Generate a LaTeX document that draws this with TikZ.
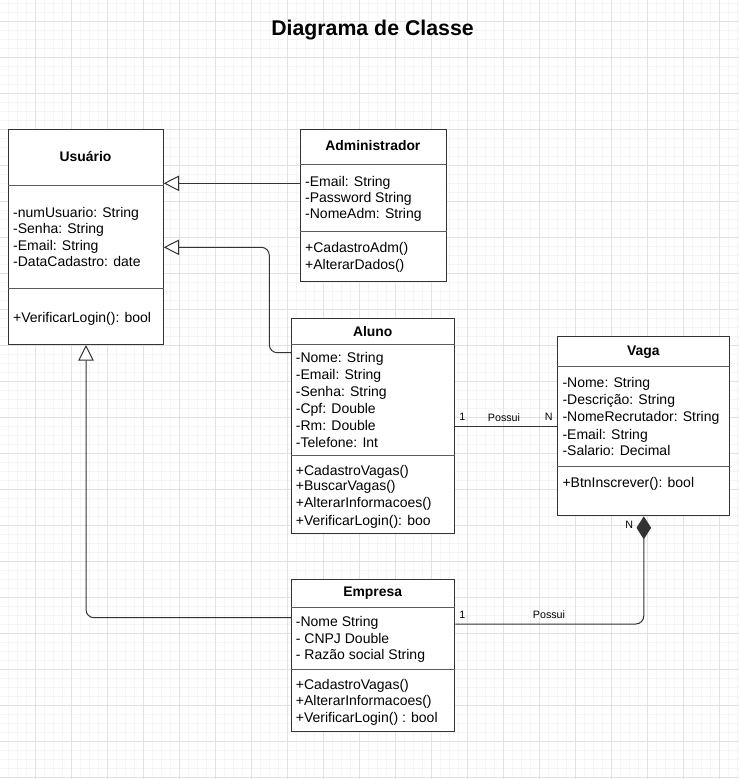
\documentclass[tikz,border=0pt]{standalone}
\usepackage{fontspec}
\setmainfont{Liberation Sans}
\usetikzlibrary{arrows.meta}
\definecolor{majorgrid}{HTML}{E2E2E2}
\definecolor{minorgrid}{HTML}{F5F5F5}
\definecolor{edge}{HTML}{333333}
\begin{document}
\begin{tikzpicture}[x=1pt,y=-1pt,
  classbox/.style={draw=edge, line width=1pt, fill=white, inner sep=0, anchor=north west},
  classtitle/.style={font=\fontsize{13.9}{16}\selectfont\bfseries, inner sep=0},
  member/.style={font=\fontsize{14}{16}\selectfont, inner sep=0, anchor=base west},
  sepline/.style={draw=edge!80, line width=0.9pt},
  conn/.style={draw=edge, line width=1pt},
  edgelabel/.style={font=\fontsize{10.7}{12}\selectfont, inner sep=0},
  inherit/.style={-{Triangle[length=15.5pt, width=15.5pt, fill=white]}},
]
\useasboundingbox (0,0) rectangle (739,779);
\fill[white] (0,0) rectangle (739,779);
% grid
\foreach \x in {8.5,17.5,...,739} \draw[minorgrid, line width=0.9pt] (\x,0) -- (\x,779);
\foreach \y in {3.3,12.3,...,779} \draw[minorgrid, line width=0.9pt] (0,\y) -- (739,\y);
\foreach \x in {35.5,71.5,...,739} \draw[majorgrid, line width=0.9pt] (\x,0) -- (\x,779);
\foreach \y in {21.3,57.3,...,779} \draw[majorgrid, line width=0.9pt] (0,\y) -- (739,\y);

% title
\node[font=\fontsize{21.3}{24}\selectfont\bfseries, inner sep=0] (title) at (372.5,30) {Diagrama de Classe};

% ---------- Usuario
\node[classbox, minimum width=154.4, minimum height=214.7] (usuario) at (8.3,129.3) {};
\node[classtitle] (usuario-t) at (85.5,156.7) {Usuário};
\draw[sepline] (usuario.west |- 0,185.3) -- (usuario.east |- 0,185.3);
\draw[sepline] (usuario.west |- 0,288.3) -- (usuario.east |- 0,288.3);
\foreach \y/\t [count=\i] in {217.3/-numUsuario: String, 233.7/-Senha: String, 250.7/-Email: String, 266.7/-DataCadastro: date, 322.3/+VerificarLogin(): bool}
  \node[member] (usuario-m\i) at (13,\y) {\t};

% ---------- Administrador
\node[classbox, minimum width=145.7, minimum height=152] (admin) at (300,129.3) {};
\node[classtitle] (admin-t) at (372.9,145.7) {Administrador};
\draw[sepline] (admin.west |- 0,164) -- (admin.east |- 0,164);
\draw[sepline] (admin.west |- 0,231) -- (admin.east |- 0,231);
\foreach \y/\t [count=\i] in {186.7/-Email: String, 202.3/-Password String, 218/-NomeAdm: String, 252.3/+CadastroAdm(), 269/+AlterarDados()}
  \node[member] (admin-m\i) at (305,\y) {\t};

% ---------- Aluno
\node[classbox, minimum width=163.3, minimum height=215.3] (aluno) at (291,318) {};
\node[classtitle] (aluno-t) at (372.7,331.3) {Aluno};
\draw[sepline] (aluno.west |- 0,344) -- (aluno.east |- 0,344);
\draw[sepline] (aluno.west |- 0,455.7) -- (aluno.east |- 0,455.7);
\foreach \y/\t [count=\i] in {362.7/-Nome: String, 379.3/-Email: String, 396.3/-Senha: String, 413.3/-Cpf: Double, 430.3/-Rm: Double, 447.3/-Telefone: Int, 475/+CadastroVagas(), 490.7/+BuscarVagas(), 507.7/+AlterarInformacoes(), 525/+VerificarLogin(): boo}
  \node[member] (aluno-m\i) at (295.7,\y) {\t};

% ---------- Vaga
\node[classbox, minimum width=172, minimum height=179.3] (vaga) at (557.3,336) {};
\node[classtitle] (vaga-t) at (643.3,352.3) {Vaga};
\draw[sepline] (vaga.west |- 0,366.7) -- (vaga.east |- 0,366.7);
\draw[sepline] (vaga.west |- 0,466.7) -- (vaga.east |- 0,466.7);
\foreach \y/\t [count=\i] in {387.3/-Nome: String, 404.3/-Descrição: String, 421.3/-NomeRecrutador: String, 439/-Email: String, 455.7/-Salario: Decimal, 487.3/+BtnInscrever(): bool}
  \node[member] (vaga-m\i) at (562.3,\y) {\t};

% ---------- Empresa
\node[classbox, minimum width=163.3, minimum height=152] (empresa) at (291,579.3) {};
\node[classtitle] (empresa-t) at (372.7,592.7) {Empresa};
\draw[sepline] (empresa.west |- 0,607) -- (empresa.east |- 0,607);
\draw[sepline] (empresa.west |- 0,669) -- (empresa.east |- 0,669);
\foreach \y/\t [count=\i] in {626.3/-Nome String, 643/- CNPJ Double, 659.7/- Razão social String, 689.3/+CadastroVagas(), 705.7/+AlterarInformacoes(), 722/+VerificarLogin() : bool}
  \node[member] (empresa-m\i) at (295.7,\y) {\t};

% ---------- connectors
\coordinate (bendA) at (269.3,300);
\draw[conn, inherit] (admin.west |- 0,183.3) -- (usuario.east |- 0,183.3);
\draw[conn, inherit, rounded corners=8pt] (aluno.west |- 0,352.7) -- (bendA |- 0,352.7) -- (bendA |- 0,247.3) -- (usuario.east |- 0,247.3);
\draw[conn, inherit, rounded corners=8pt] (empresa.west |- 0,617.7) -| (usuario.south);
\draw[conn] (aluno.east) -- (vaga.west);
\draw[conn, {Diamond[length=23pt, width=14.6pt]}-, rounded corners=8pt] (vaga.south) |- (empresa.east |- 0,624);

% labels
\node[edgelabel] (l1) at (462.3,417.3) {1};
\node[edgelabel] (l2) at (504,417.3) {Possui};
\node[edgelabel] (l3) at (548.7,417.3) {N};
\node[edgelabel] (l4) at (462.3,615) {1};
\node[edgelabel] (l5) at (549,615) {Possui};
\node[edgelabel] (l6) at (629.3,525) {N};
\end{tikzpicture}
\end{document}
